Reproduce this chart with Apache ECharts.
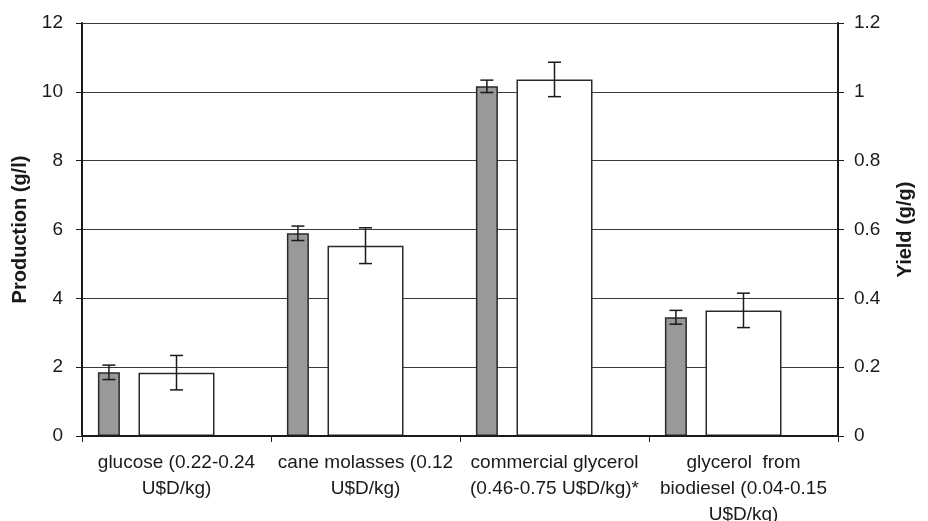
<!DOCTYPE html>
<html>
<head>
<meta charset="utf-8">
<script src="https://cdn.jsdelivr.net/npm/echarts@6/dist/echarts.min.js"></script>
<style>
  html, body { margin: 0; padding: 0; background: #fff; }
  #chart { width: 928px; height: 521px; }
</style>
</head>
<body>
<div id="chart"></div>
<script>
// Substrates (with price ranges) on the category axis
const categories = [
  'glucose (0.22-0.24\nU$D/kg)',
  'cane molasses (0.12\nU$D/kg)',
  'commercial glycerol\n(0.46-0.75 U$D/kg)*',
  'glycerol  from\nbiodiesel (0.04-0.15\nU$D/kg)'
];
// Production (g/l), left axis, with ± error
const production = [1.85, 5.89, 10.16, 3.45];
const productionErr = [0.21, 0.21, 0.18, 0.20];
// Yield (g/g), right axis, with ± error
const yieldValues = [0.184, 0.553, 1.036, 0.365];
const yieldErr = [0.05, 0.052, 0.05, 0.05];
// Axis ticks
const productionTicks = { min: 0, max: 12, interval: 2 };
const yieldTicks = { min: 0, max: 1.2, interval: 0.2 };

const FONT = '"Liberation Sans", Arial, Helvetica, sans-serif';
const INK = '#1a1a1a';

// Plot frame; production bars sit in a second, identical frame shifted left
const frame = { left: 82, right: 90, top: 23, bottom: 85 };
const prodShift = 67.6;

function errorData(vals, errs) {
  return vals.map((v, i) => [i, v - errs[i], v + errs[i]]);
}

function renderError(params, api) {
  const i = api.value(0);
  const lo = api.coord([i, api.value(1)]);
  const hi = api.coord([i, api.value(2)]);
  const half = 6.5;
  const style = { stroke: INK, lineWidth: 1.5 };
  return {
    type: 'group',
    children: [
      { type: 'line', shape: { x1: hi[0], y1: hi[1], x2: lo[0], y2: lo[1] }, style },
      { type: 'line', shape: { x1: hi[0] - half, y1: hi[1], x2: hi[0] + half, y2: hi[1] }, style },
      { type: 'line', shape: { x1: lo[0] - half, y1: lo[1], x2: lo[0] + half, y2: lo[1] }, style }
    ]
  };
}

const chart = echarts.init(document.getElementById('chart'), null, { renderer: 'canvas' });

chart.setOption({
  animation: false,
  backgroundColor: '#fff',
  textStyle: { fontFamily: FONT },
  grid: [
    {
      left: frame.left, right: frame.right, top: frame.top, bottom: frame.bottom,
      containLabel: false, outerBoundsMode: 'none'
    },
    {
      left: frame.left - prodShift, right: frame.right + prodShift, top: frame.top, bottom: frame.bottom,
      containLabel: false, outerBoundsMode: 'none'
    }
  ],
  xAxis: [
    {
      type: 'category',
      gridIndex: 0,
      data: categories,
      z: 4,
      axisLine: { lineStyle: { color: INK, width: 2 } },
      axisTick: { show: true, length: 6, lineStyle: { color: INK, width: 1 } },
      axisLabel: {
        interval: 0, color: INK, fontSize: 19, lineHeight: 26, margin: 14,
        fontFamily: FONT
      }
    },
    {
      type: 'category',
      gridIndex: 1,
      data: categories,
      show: false
    }
  ],
  yAxis: [
    {
      type: 'value',
      gridIndex: 0,
      position: 'left',
      min: productionTicks.min, max: productionTicks.max, interval: productionTicks.interval,
      name: 'Production (g/l)',
      nameLocation: 'middle',
      nameRotate: 90,
      nameGap: 50,
      nameTextStyle: { fontSize: 20, fontWeight: 'bold', color: INK, fontFamily: FONT },
      axisLine: { show: true, lineStyle: { color: INK, width: 2 } },
      axisTick: { show: true, length: 6, lineStyle: { color: INK, width: 1 } },
      axisLabel: { color: INK, fontSize: 19, margin: 19, fontFamily: FONT },
      splitLine: { show: true, lineStyle: { color: '#3a3a3a', width: 1 } }
    },
    {
      type: 'value',
      gridIndex: 0,
      position: 'right',
      min: yieldTicks.min, max: yieldTicks.max, interval: yieldTicks.interval,
      name: 'Yield (g/g)',
      nameLocation: 'middle',
      nameRotate: 90,
      nameGap: 57,
      nameTextStyle: { fontSize: 20, fontWeight: 'bold', color: INK, fontFamily: FONT },
      axisLine: { show: true, lineStyle: { color: INK, width: 2 } },
      axisTick: { show: true, length: 6, lineStyle: { color: INK, width: 1 } },
      axisLabel: { color: INK, fontSize: 19, margin: 16, fontFamily: FONT },
      splitLine: { show: false }
    },
    {
      type: 'value',
      gridIndex: 1,
      min: productionTicks.min, max: productionTicks.max, interval: productionTicks.interval,
      show: false,
      splitLine: { show: false }
    }
  ],
  series: [
    {
      name: 'Production (g/l)',
      type: 'bar',
      xAxisIndex: 1,
      yAxisIndex: 2,
      data: production,
      barWidth: 22,
      itemStyle: { color: '#999999', borderColor: '#2a2a2a', borderWidth: 1.5 },
      z: 3
    },
    {
      name: 'Production error',
      type: 'custom',
      xAxisIndex: 1,
      yAxisIndex: 2,
      data: errorData(production, productionErr),
      renderItem: renderError,
      z: 5
    },
    {
      name: 'Yield (g/g)',
      type: 'bar',
      xAxisIndex: 0,
      yAxisIndex: 1,
      data: yieldValues,
      barWidth: 76,
      itemStyle: { color: '#ffffff', borderColor: '#2a2a2a', borderWidth: 1.5 },
      z: 3
    },
    {
      name: 'Yield error',
      type: 'custom',
      xAxisIndex: 0,
      yAxisIndex: 1,
      data: errorData(yieldValues, yieldErr),
      renderItem: renderError,
      z: 5
    }
  ]
});
</script>
</body>
</html>
